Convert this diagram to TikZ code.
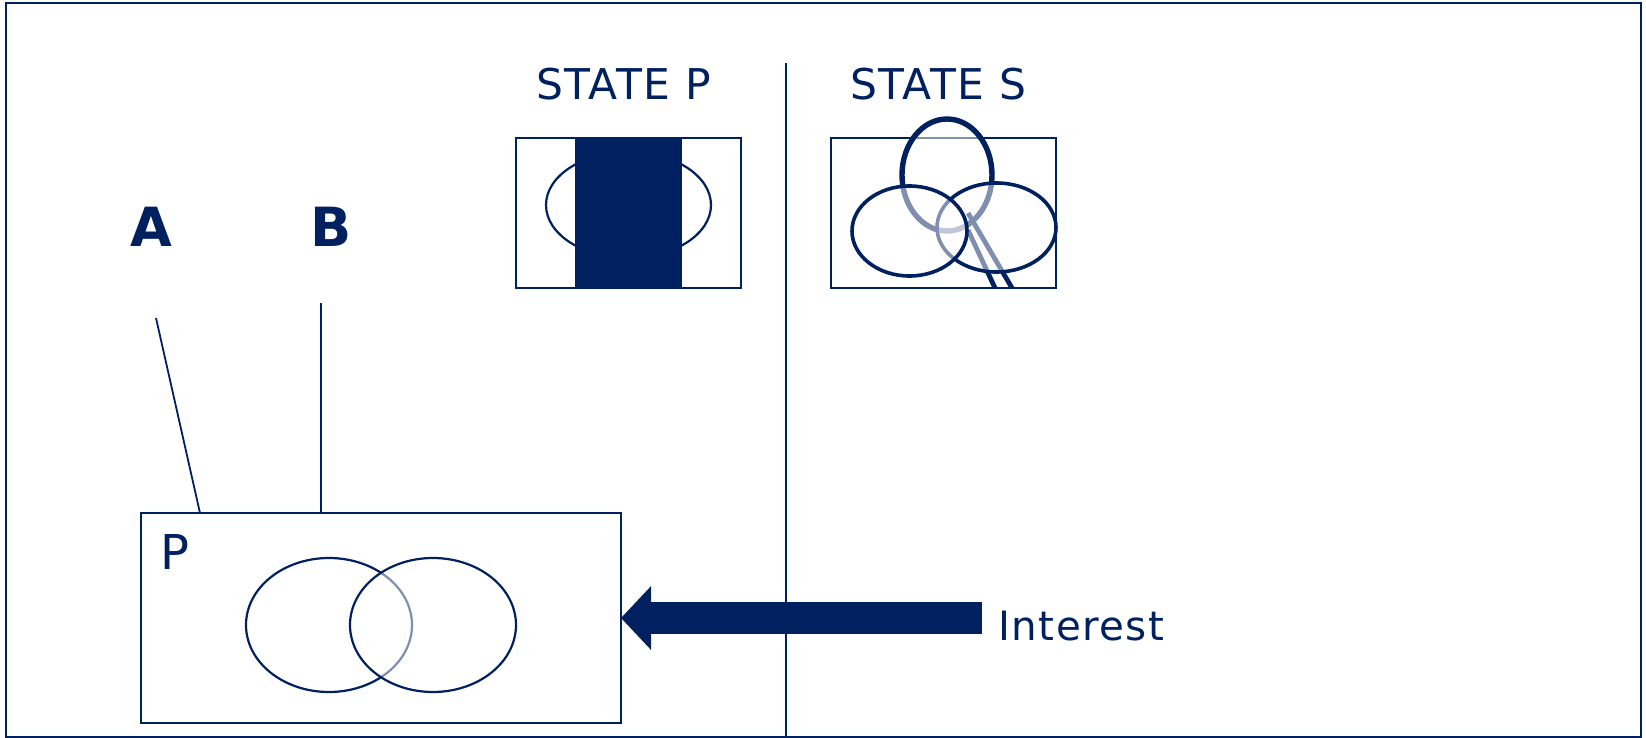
\documentclass[tikz,border=0pt]{standalone}
\usepackage{fontspec}
\setmainfont[LetterSpace=3.5]{DejaVu Sans}
\usepackage{tikz}
\usetikzlibrary{arrows.meta,positioning,shapes.geometric}
\definecolor{navy}{HTML}{002060}
\tikzset{
	frameline/.style={draw=navy,line width=1.1pt},
	thinline/.style={draw=navy,line width=0.9pt},
	venn/.style={draw=navy,line width=1.1pt,fill=white,fill opacity=0.5},
	statebox/.style={frameline,inner sep=0pt,outer sep=0pt,minimum width=112.5pt,minimum height=75pt},
	title/.style={text=navy,font=\fontsize{21.2}{24}\selectfont,inner sep=0pt,anchor=base west},
	biglabel/.style={text=navy,font=\fontsize{27}{32}\selectfont\bfseries,inner sep=0pt,anchor=base west},
}
\begin{document}
\begin{tikzpicture}[x=0.5pt,y=-0.5pt]
	\useasboundingbox (0,0) rectangle (1646,738);
	\draw[frameline] (6,3) rectangle (1641,737);
	\coordinate (divtop) at (786,63);
	\coordinate (divbot) at (786,737);
	\draw[frameline] (divtop) -- (divbot);

	% state P
	\node[title] (titleP) at (536,100) {STATE P};
	\node[statebox] (boxSP) at (628.5,213) {};
	\draw[venn] (628.5,205) ellipse (82.5 and 53);
	\fill[navy] (575,137) rectangle (682,288);

	% state S
	\node[title] (titleS) at (850,100) {STATE S};
	\node[statebox] (boxSS) at (943.5,213) {};
	\draw[venn,line width=2.7pt] (947,175) ellipse (45 and 56);
	\draw[navy,line width=2.4pt] (968,213) -- (1012,288);
	\draw[navy,line width=2.4pt] (968,230) -- (995,288);
	\draw[venn,line width=1.8pt] (996.5,227.5) ellipse (59.5 and 44.5);
	\draw[venn,line width=1.8pt] (909.5,231) ellipse (57.5 and 45);

	% labels and box P
	\node[biglabel] (labelA) at (130,247) {A};
	\node[biglabel] (labelB) at (310.5,247) {B};
	\node[frameline,inner sep=0pt,outer sep=0pt,minimum width=240pt,minimum height=105pt] (boxP) at (381,618) {};
	\node[text=navy,font=\fontsize{24}{28}\selectfont,inner sep=0pt,anchor=base west] (nameP) at (160,569) {P};
	\coordinate (lineAtop) at (156,318);
	\coordinate (lineAbot) at (200,513);
	\coordinate (lineBtop) at (321,303);
	\coordinate (lineBbot) at (321,513);
	\draw[thinline] (lineAtop) -- (lineAbot);
	\draw[thinline] (lineBtop) -- (lineBbot);
	\draw[venn] (329,625) ellipse (83 and 67);
	\draw[venn] (433,625) ellipse (83 and 67);

	% interest
	\node[text=navy,font=\fontsize{20.2}{24}\selectfont,inner sep=0pt,anchor=base west] (interest) at (998,640) {Interest};
	\coordinate (arrowtail) at (982,618);
	\draw[navy,line width=16pt,-{Triangle[width=31pt,length=15pt]}] (arrowtail) -- (boxP.east);
\end{tikzpicture}
\end{document}
